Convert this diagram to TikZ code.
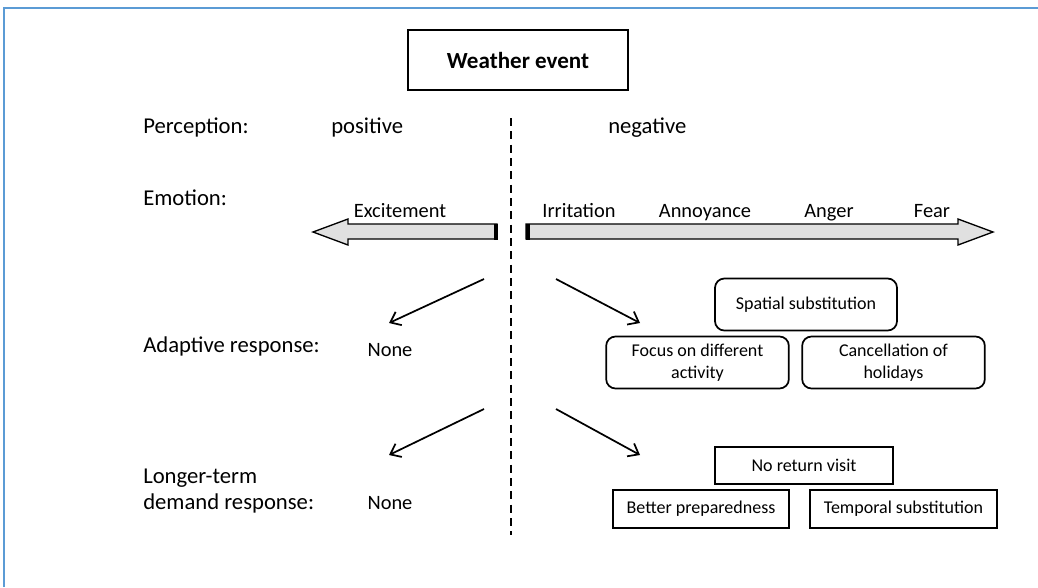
\documentclass[tikz,border=0pt]{standalone}
\usepackage{fontspec}
\setmainfont{Carlito}
\usetikzlibrary{arrows.meta}

\definecolor{frameblue}{RGB}{91,155,213}

\tikzset{
  lbl/.style={anchor=base west, inner sep=0pt, font=\fontsize{17}{20}\selectfont},
  emo/.style={anchor=base, inner sep=0pt, font=\fontsize{15.3}{18}\selectfont},
  resp/.style={draw, line width=1.3pt, align=center, inner sep=0pt,
    font=\fontsize{13.5}{16.5}\selectfont},
  rresp/.style={resp, rounded corners=7pt},
  push/.style={line width=1.3pt, -{Straight Barb[length=7pt,width=11pt]}},
  fatarrow/.style={line width=1pt, fill=black!12},
}

\begin{document}
\begin{tikzpicture}[x=0.75pt,y=-0.75pt]
\useasboundingbox (0,0) rectangle (1038,587);

% FRAME
\draw[frameblue, line width=1.5pt] (4,587) -- (4,8) -- (1038,8);

% TITLE
\node[draw, line width=1.3pt, minimum width=165pt, minimum height=45pt,
  font=\bfseries\fontsize{17.3}{20}\selectfont] (event) at (518,60) {Weather event};

% DIVIDER
\coordinate (dtop) at (511,118);
\coordinate (dbot) at (511,535);
\draw[line width=1.1pt, dash pattern=on 6pt off 4pt] (dtop) -- (dbot);

% PERCEPTION
\node[lbl] (perc) at (143,133) {Perception:};
\node[lbl] (pos) at (331,133) {positive};
\node[lbl] (neg) at (608,133) {negative};

% EMOTION
\node[lbl] (emo) at (143,205) {Emotion:};
\node[emo] (exc) at (400,217) {Excitement};
\node[emo] (irr) at (579,217) {Irritation};
\node[emo] (ann) at (705,217) {Annoyance};
\node[emo] (ang) at (829,217) {Anger};
\node[emo] (fear) at (932,217) {Fear};

\draw[fatarrow] (497,224) -- (348,224) -- (348,219) -- (313,232)
  -- (348,245) -- (348,239) -- (497,239) -- cycle;
\draw[line width=3pt] (495.5,223.5) -- (495.5,239.5);
\draw[fatarrow] (526,224) -- (958,224) -- (958,219) -- (993,232)
  -- (958,245) -- (958,239) -- (526,239) -- cycle;
\draw[line width=3pt] (527.5,223.5) -- (527.5,239.5);

% ADAPTIVE RESPONSE
\node[lbl] (adapt) at (143,352) {Adaptive response:};
\node[emo] (none1) at (390,356) {None};
\coordinate (a1) at (484,279);
\coordinate (a1e) at (389,323);
\coordinate (a2) at (556,279);
\coordinate (a2e) at (640,323);
\draw[push] (a1) -- (a1e);
\draw[push] (a2) -- (a2e);

\node[rresp, minimum width=136.5pt, minimum height=39pt] (spat) at (806,304.5) {Spatial substitution};
\node[rresp, minimum width=137pt, minimum height=39pt] (focus) at (697.5,362.5) {Focus on different\\activity};
\node[rresp, minimum width=137pt, minimum height=39pt] (canc) at (893.5,362.5) {Cancellation of\\holidays};

% LONGER-TERM
\node[lbl] (lt) at (143,483) {Longer-term};
\node[lbl] (dem) at (143,509) {demand response:};
\node[emo] (none2) at (390,509) {None};
\coordinate (b1) at (484,409);
\coordinate (b1e) at (389,455);
\coordinate (b2) at (556,409);
\coordinate (b2e) at (640,455);
\draw[push] (b1) -- (b1e);
\draw[push] (b2) -- (b2e);

\node[resp, minimum width=133.5pt, minimum height=27.75pt] (noret) at (804,465.5) {No return visit};
\node[resp, minimum width=132pt, minimum height=28.5pt] (prep) at (701,509) {Better preparedness};
\node[resp, minimum width=140pt, minimum height=28.5pt] (temp) at (903.5,509) {Temporal substitution};

\end{tikzpicture}
\end{document}
